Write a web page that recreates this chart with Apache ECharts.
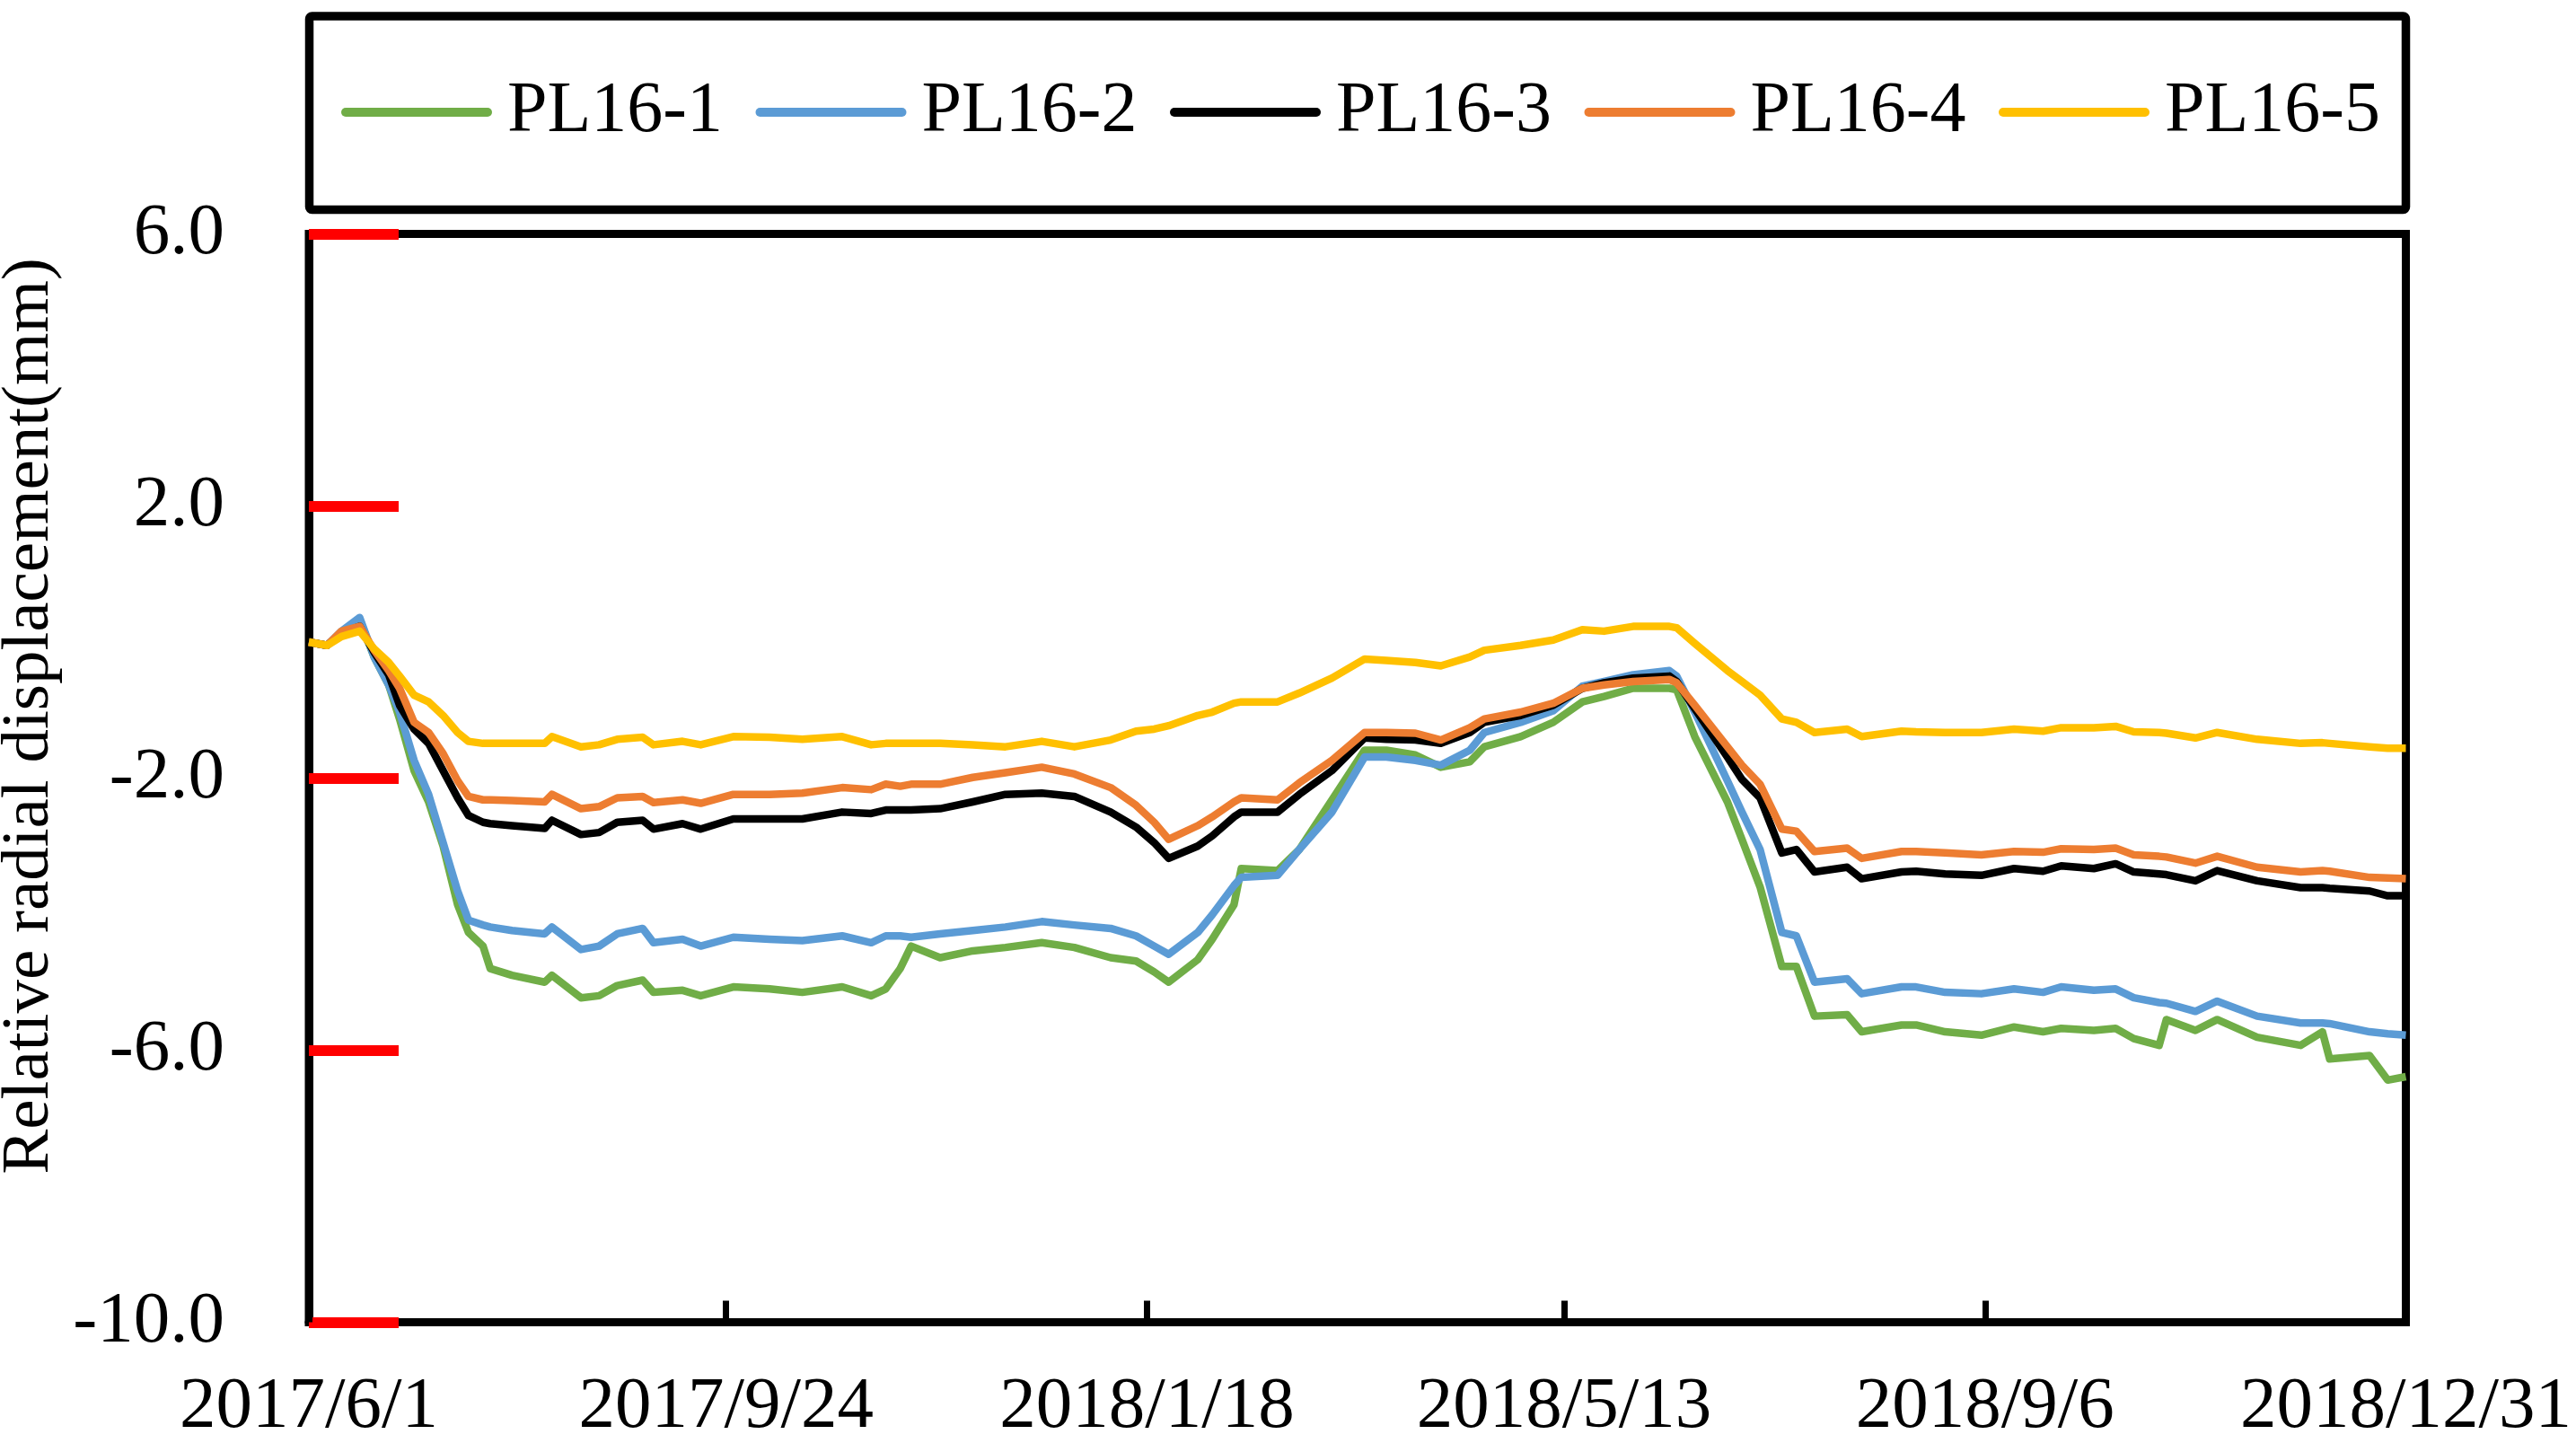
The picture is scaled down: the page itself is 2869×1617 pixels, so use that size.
<!DOCTYPE html>
<html>
<head>
<meta charset="utf-8">
<script src="https://cdn.jsdelivr.net/npm/echarts@6/dist/echarts.min.js"></script>
<style>
html, body { margin: 0; padding: 0; background: #fff; }
#chart { width: 2869px; height: 1617px; }
</style>
</head>
<body>
<div id="chart"></div>
<script>
// ---- data (x = days since 2017/6/1) ----
const startDate = '2017/6/1';
const seriesNames = ['PL16-1', 'PL16-2', 'PL16-3', 'PL16-4', 'PL16-5'];
const seriesColors = ['#70AD47', '#5B9BD5', '#000000', '#ED7D31', '#FFC000'];
const xTickLabels = ['2017/6/1', '2017/9/24', '2018/1/18', '2018/5/13', '2018/9/6', '2018/12/31'];
const yTicks = [-10, -6, -2, 2, 6];

const days = [0,5,9,14,18,22,25,29,33,37,41,44,48,50,56,65,67,75,80,85,92,95,103,108,117,127,136,147,
155,159,163,166,174,183,192,202,211,221,228,233,237,245,249,255,257,267,273,282,291,
297,305,312,320,324,334,343,351,357,365,375,377,382,391,395,400,406,410,415,424,428,439,
443,451,461,470,478,483,492,498,503,510,512,520,526,537,549,555,557,568,573,578];

const pl16_1 = [0.00,-0.05,0.13,0.33,-0.22,-0.63,-1.13,-1.89,-2.35,-3.00,-3.86,-4.27,-4.47,-4.80,-4.90,-5.00,-4.90,-5.23,-5.20,-5.05,-4.97,-5.15,-5.12,-5.20,-5.07,-5.10,-5.15,-5.07,
-5.20,-5.10,-4.80,-4.47,-4.64,-4.54,-4.49,-4.42,-4.49,-4.64,-4.69,-4.85,-5.00,-4.67,-4.37,-3.86,-3.33,-3.36,-3.05,-2.32,-1.59,
-1.59,-1.66,-1.84,-1.76,-1.54,-1.39,-1.18,-0.88,-0.80,-0.68,-0.68,-0.70,-1.39,-2.35,-2.90,-3.60,-4.77,-4.77,-5.50,-5.48,-5.73,-5.63,
-5.63,-5.73,-5.78,-5.66,-5.73,-5.68,-5.71,-5.68,-5.83,-5.93,-5.55,-5.71,-5.55,-5.81,-5.93,-5.73,-6.13,-6.08,-6.44,-6.39];

const pl16_2 = [0.00,-0.05,0.16,0.36,-0.22,-0.63,-1.03,-1.74,-2.24,-2.95,-3.66,-4.09,-4.16,-4.19,-4.24,-4.29,-4.19,-4.52,-4.47,-4.29,-4.21,-4.42,-4.37,-4.47,-4.34,-4.37,-4.39,-4.32,
-4.42,-4.32,-4.32,-4.34,-4.29,-4.24,-4.19,-4.11,-4.16,-4.21,-4.32,-4.47,-4.59,-4.27,-4.01,-3.58,-3.46,-3.43,-3.05,-2.50,-1.69,
-1.69,-1.74,-1.81,-1.59,-1.33,-1.18,-1.01,-0.65,-0.58,-0.48,-0.42,-0.50,-1.03,-2.04,-2.50,-3.05,-4.27,-4.32,-5.00,-4.95,-5.17,-5.07,
-5.07,-5.15,-5.17,-5.10,-5.15,-5.07,-5.12,-5.10,-5.23,-5.30,-5.31,-5.43,-5.28,-5.50,-5.60,-5.60,-5.61,-5.73,-5.76,-5.78];

const pl16_3 = [0.00,-0.05,0.13,0.23,-0.15,-0.48,-0.93,-1.28,-1.49,-1.89,-2.29,-2.55,-2.65,-2.67,-2.70,-2.74,-2.62,-2.83,-2.80,-2.65,-2.62,-2.75,-2.67,-2.75,-2.60,-2.60,-2.60,-2.50,
-2.52,-2.47,-2.47,-2.47,-2.45,-2.35,-2.24,-2.22,-2.27,-2.50,-2.72,-2.95,-3.18,-3.00,-2.85,-2.57,-2.50,-2.50,-2.24,-1.89,-1.41,
-1.43,-1.44,-1.49,-1.33,-1.18,-1.08,-0.93,-0.68,-0.60,-0.53,-0.50,-0.58,-0.98,-1.69,-2.02,-2.29,-3.10,-3.05,-3.38,-3.31,-3.48,-3.38,
-3.37,-3.41,-3.43,-3.33,-3.37,-3.29,-3.33,-3.26,-3.38,-3.41,-3.42,-3.51,-3.36,-3.51,-3.61,-3.61,-3.62,-3.66,-3.73,-3.73];

const pl16_4 = [0.00,-0.05,0.16,0.23,-0.12,-0.42,-0.68,-1.18,-1.33,-1.64,-2.04,-2.27,-2.32,-2.32,-2.33,-2.35,-2.24,-2.45,-2.42,-2.29,-2.27,-2.36,-2.32,-2.37,-2.24,-2.24,-2.22,-2.14,
-2.17,-2.09,-2.12,-2.09,-2.09,-1.99,-1.92,-1.84,-1.94,-2.14,-2.40,-2.65,-2.90,-2.70,-2.57,-2.35,-2.29,-2.32,-2.07,-1.74,-1.33,
-1.33,-1.34,-1.44,-1.26,-1.13,-1.03,-0.90,-0.68,-0.63,-0.58,-0.55,-0.60,-0.93,-1.54,-1.81,-2.09,-2.75,-2.78,-3.08,-3.03,-3.18,-3.08,
-3.08,-3.10,-3.13,-3.08,-3.09,-3.04,-3.05,-3.03,-3.13,-3.15,-3.16,-3.25,-3.15,-3.31,-3.38,-3.36,-3.37,-3.46,-3.47,-3.48];

const pl16_5 = [0.00,-0.05,0.08,0.16,-0.10,-0.30,-0.50,-0.78,-0.88,-1.08,-1.33,-1.46,-1.49,-1.49,-1.49,-1.49,-1.39,-1.54,-1.51,-1.43,-1.40,-1.51,-1.46,-1.51,-1.39,-1.40,-1.43,-1.39,
-1.51,-1.49,-1.49,-1.49,-1.49,-1.51,-1.54,-1.46,-1.54,-1.44,-1.31,-1.28,-1.23,-1.08,-1.03,-0.90,-0.88,-0.88,-0.75,-0.53,-0.25,
-0.27,-0.30,-0.35,-0.22,-0.12,-0.05,0.03,0.18,0.16,0.23,0.23,0.21,-0.02,-0.42,-0.58,-0.78,-1.13,-1.18,-1.33,-1.28,-1.39,-1.31,
-1.32,-1.33,-1.33,-1.28,-1.31,-1.26,-1.26,-1.24,-1.32,-1.33,-1.34,-1.41,-1.33,-1.43,-1.49,-1.48,-1.49,-1.54,-1.56,-1.56];

const seriesValues = [pl16_1, pl16_2, pl16_3, pl16_4, pl16_5];

// ---- helpers ----
function dayOffset(s) {
  const a = s.split('/').map(Number);
  const b = startDate.split('/').map(Number);
  return Math.round((Date.UTC(a[0], a[1] - 1, a[2]) - Date.UTC(b[0], b[1] - 1, b[2])) / 86400000);
}
const xTickDays = xTickLabels.map(dayOffset);

const FONT = 'Liberation Serif';
const LEGEND_ICON = 'path://M5,0 L163,0 A5,5 0 0 1 163,10 L5,10 A5,5 0 0 1 5,0 Z';
const chart = echarts.init(document.getElementById('chart'), null, { renderer: 'canvas' });

const yMin = yTicks[0], yMax = yTicks[yTicks.length - 1], yStep = yTicks[1] - yTicks[0];

const option = {
  animation: false,
  backgroundColor: '#fff',
  grid: {
    left: 344, right: 189.5, top: 260.5, bottom: 144.5,
    show: true, borderColor: '#000', borderWidth: 9,
    outerBoundsMode: 'none'
  },
  graphic: [{
    type: 'rect', z: 10,
    shape: { x: 344.5, y: 18, width: 2335, height: 215.5, r: 3 },
    style: { fill: 'none', stroke: '#000', lineWidth: 9.5 }
  }],
  legend: {
    data: seriesNames.map(function (n) { return { name: n, icon: LEGEND_ICON }; }),
    left: 380, top: 85, padding: 0, orient: 'horizontal',
    itemWidth: 168, itemHeight: 10, itemGap: 36.5,
    selectedMode: false,
    textStyle: { fontFamily: FONT, fontSize: 80, color: '#000', padding: [0, 0, 0, 12] }
  },
  xAxis: {
    type: 'value', min: 0, max: xTickDays[xTickDays.length - 1],
    axisLine: { show: true, onZero: false, lineStyle: { color: '#000', width: 9 } },
    splitLine: { show: false },
    axisTick: { show: true, inside: true, length: 24, customValues: xTickDays, lineStyle: { color: '#000', width: 7 } },
    axisLabel: {
      show: true, customValues: xTickDays, margin: 55,
      fontFamily: FONT, fontSize: 81, color: '#000',
      formatter: function (v) { const i = xTickDays.indexOf(Math.round(v)); return i >= 0 ? xTickLabels[i] : ''; }
    }
  },
  yAxis: {
    type: 'value', min: yMin, max: yMax, interval: yStep,
    name: 'Relative radial displacement(mm)',
    nameLocation: 'middle', nameRotate: 90, nameGap: 266,
    nameTextStyle: { fontFamily: FONT, fontSize: 75, color: '#000', padding: [0, 0, 0, 138] },
    axisLine: { show: true, onZero: false, lineStyle: { color: '#000', width: 9 } },
    splitLine: { show: false },
    axisTick: { show: true, inside: true, length: 100, lineStyle: { color: '#ff0000', width: 12 } },
    axisLabel: {
      show: true, margin: 94,
      fontFamily: FONT, fontSize: 81, color: '#000',
      formatter: function (v) { return Number(v).toFixed(1); }
    }
  },
  series: seriesNames.map(function (name, k) {
    return {
      name: name, type: 'line',
      data: days.map(function (d, i) { return [d, seriesValues[k][i]]; }),
      showSymbol: false, symbol: 'none', clip: false,
      color: seriesColors[k],
      itemStyle: { color: seriesColors[k] },
      lineStyle: { color: seriesColors[k], width: 8.5, join: 'round' },
      z: 2 + k
    };
  })
};
chart.setOption(option);
</script>
</body>
</html>
